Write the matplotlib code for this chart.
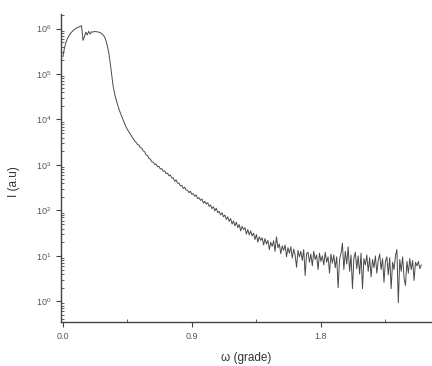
import matplotlib
matplotlib.use("Agg")
import matplotlib.pyplot as plt
import numpy as np
from matplotlib.ticker import LogLocator, FixedLocator

plt.rcParams['font.family'] = ['Liberation Sans', 'DejaVu Sans']

# omega grid (grade) and log10 of the intensity
omega = np.round(np.arange(0.0, 2.5001, 0.01), 2)

# 0.00 .. 0.30 : rise, peak and plateau
log_I_plateau = [5.38, 5.56, 5.68, 5.77, 5.83, 5.88, 5.92, 5.95, 5.98, 6.00,
                 6.02, 6.03, 6.05, 6.06, 5.74, 5.82, 5.92, 5.86, 5.94, 5.88,
                 5.93, 5.92, 5.94, 5.93, 5.93, 5.92, 5.91, 5.89, 5.86, 5.82,
                 5.74]
# 0.31 .. 0.50 : critical-angle drop
log_I_drop = [5.62, 5.47, 5.24, 4.98, 4.74, 4.58, 4.45, 4.34, 4.24, 4.15,
              4.07, 3.99, 3.91, 3.84, 3.78, 3.73, 3.68, 3.63, 3.58, 3.53]
# 0.51 .. 2.50 : decay and noisy tail
log_I_tail = [3.50, 3.45, 3.44, 3.38, 3.37, 3.31, 3.29, 3.22, 3.21, 3.14,
              3.13, 3.07, 3.06, 3.01, 3.02, 2.96, 2.97, 2.91, 2.92, 2.86,
              2.87, 2.81, 2.82, 2.76, 2.78, 2.71, 2.72, 2.64, 2.67, 2.60,
              2.60, 2.54, 2.55, 2.48, 2.51, 2.45, 2.44, 2.39, 2.42, 2.35,
              2.37, 2.31, 2.34, 2.26, 2.28, 2.22, 2.25, 2.16, 2.20, 2.14,
              2.17, 2.09, 2.12, 2.04, 2.08, 1.99, 2.05, 1.95, 1.98, 1.90,
              1.95, 1.86, 1.90, 1.80, 1.86, 1.76, 1.82, 1.70, 1.77, 1.66,
              1.74, 1.62, 1.69, 1.55, 1.65, 1.58, 1.62, 1.48, 1.58, 1.46,
              1.55, 1.44, 1.50, 1.36, 1.47, 1.30, 1.42, 1.34, 1.40, 1.24,
              1.38, 1.26, 1.34, 1.14, 1.30, 1.21, 1.33, 1.10, 1.42, 1.18,
              1.26, 1.05, 1.22, 1.12, 1.24, 0.98, 1.18, 1.06, 1.20, 0.95,
              1.15, 1.02, 0.75, 1.12, 0.98, 1.10, 0.90, 1.14, 0.57, 1.05,
              1.08, 0.86, 1.04, 0.78, 1.10, 0.92, 1.02, 0.70, 1.06, 0.88,
              1.00, 0.80, 1.08, 0.86, 0.98, 0.62, 1.04, 0.84, 1.02, 0.74,
              0.98, 0.30, 0.92, 1.05, 1.28, 0.70, 1.10, 0.82, 1.20, 0.66,
              1.02, 0.28, 0.95, 1.08, 0.72, 1.00, 0.60, 1.06, 0.28, 0.94,
              0.80, 1.02, 0.66, 0.96, 0.54, 0.92, 0.74, 1.00, 0.62, 0.90,
              1.04, 0.70, 0.94, 0.42, 0.88, 0.98, 0.58, 0.96, 0.28, 0.86,
              0.70, 1.00, 1.14, -0.03, 0.92, 0.66, 0.98, 0.52, 0.35, 0.88,
              0.62, 0.94, 0.70, 0.90, 0.46, 0.86, 0.78, 0.88, 0.72, 0.80]

intensity = 10 ** np.array(log_I_plateau + log_I_drop + log_I_tail)

fig = plt.figure(figsize=(4.32, 3.66), dpi=100)
ax = fig.add_axes([0.141, 0.12, 0.859, 0.842])

ax.plot(omega, intensity, color='#4a4a4a', lw=0.7)

ax.set_yscale('log')
ax.set_xlim(-0.014, 2.575)
ax.set_ylim(0.35, 2.1e6)

ax.xaxis.set_major_locator(FixedLocator([0.0, 0.9, 1.8]))
ax.xaxis.set_minor_locator(FixedLocator([0.45, 1.35, 2.25]))
ax.set_xticklabels(['0.0', '0.9', '1.8'])
ax.yaxis.set_major_locator(LogLocator(base=10, numticks=10))
ax.yaxis.set_minor_locator(LogLocator(base=10, subs=np.arange(2, 10), numticks=20))

for side in ['top', 'right']:
    ax.spines[side].set_visible(False)
for side in ['left', 'bottom']:
    ax.spines[side].set_linewidth(1.0)
    ax.spines[side].set_color('#444444')

ax.tick_params(which='major', direction='out', length=3.5, width=0.8,
               colors='#444444', labelsize=6.5, labelcolor='#555555')
ax.tick_params(which='minor', direction='in', length=2, width=0.6, colors='#444444')

ax.set_xlabel('ω (grade)', fontsize=8.5, color='#333333', labelpad=8)
ax.set_ylabel('I (a.u)', fontsize=8.5, color='#333333')
ax.yaxis.set_label_coords(-0.11, 0.455)

fig.savefig('out.png', dpi=100)
